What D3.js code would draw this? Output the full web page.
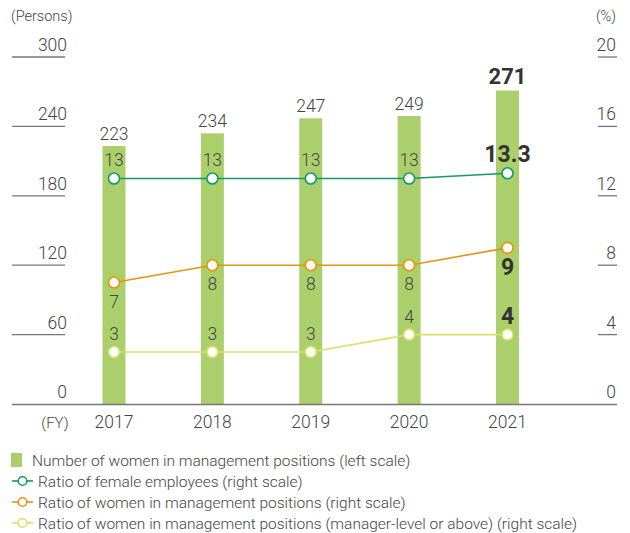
<!DOCTYPE html>
<html><head><meta charset="utf-8">
<script src="https://cdn.jsdelivr.net/npm/d3@7"></script>
<style>body{margin:0;background:#fff}svg{display:block}text{font-family:Roboto,"Liberation Sans",Arial,sans-serif;font-weight:300}</style>
</head><body><svg id="c" width="630" height="533"></svg>
<script>
const years = ["2017","2018","2019","2020","2021"];
const womenMgmt = [223,234,247,249,271];
const femaleRatio = [13,13,13,13,13.3];
const mgmtRatio = [7,8,8,8,9];
const mgrLevelRatio = [3,3,3,4,4];
const femaleLabels = ["13","13","13","13","13.3"];
const mgmtLabels = ["7","8","8","8","9"];
const mgrLabels = ["3","3","3","4","4"];
const leftTicks = [0,60,120,180,240,300];
const rightTicks = [0,4,8,12,16,20];
const legendItems = ["Number of women in management positions (left scale)","Ratio of female employees (right scale)","Ratio of women in management positions (right scale)","Ratio of women in management positions (manager-level or above) (right scale)"];

const C = {bar:"#abd06b", green:"#129a6a", orange:"#e8930e", yellow:"#dbe068", text:"#444", dark:"#333", axis:"#777"};
const svg = d3.select("#c");
const x = d3.scalePoint().domain(years).range([114,507.5]);
const yL = d3.scaleLinear().domain([0,300]).range([404,57]);
const yR = d3.scaleLinear().domain([0,20]).range([404,57]);
const last = years.length-1;

// left axis
const gl = svg.append("g");
leftTicks.forEach(t=>{
  if(t>0) gl.append("line").attr("x1",12).attr("x2",65).attr("y1",yL(t)).attr("y2",yL(t)).attr("stroke",C.axis).attr("stroke-width",1.3);
  gl.append("text").attr("x",67).attr("y",yL(t)-6).attr("text-anchor","end").attr("font-size",17.5).attr("fill",C.text).text(t);
});
const gr = svg.append("g");
rightTicks.forEach(t=>{
  if(t>0) gr.append("line").attr("x1",598).attr("x2",617).attr("y1",yR(t)).attr("y2",yR(t)).attr("stroke",C.axis).attr("stroke-width",1.3);
  gr.append("text").attr("x",616).attr("y",yR(t)-6).attr("text-anchor","end").attr("font-size",17.5).attr("fill",C.text).text(t);
});
svg.append("text").attr("x",11).attr("y",21).attr("font-size",14.5).attr("fill",C.text).text("(Persons)");
svg.append("text").attr("x",616).attr("y",21).attr("text-anchor","end").attr("font-size",14.5).attr("fill",C.text).text("(%)");

// bars
svg.append("g").selectAll("rect").data(womenMgmt).join("rect")
  .attr("x",(d,i)=>x(years[i])-11.5).attr("width",23)
  .attr("y",d=>yL(d)).attr("height",d=>yL(0)-yL(d)).attr("fill",C.bar);

// baseline
svg.append("line").attr("x1",12).attr("x2",617).attr("y1",404.5).attr("y2",404.5).attr("stroke",C.axis).attr("stroke-width",1.5);
svg.append("text").attr("x",55).attr("y",428).attr("text-anchor","middle").attr("font-size",15).attr("fill",C.text).text("(FY)");
svg.append("g").selectAll("text").data(years).join("text")
  .attr("x",d=>x(d)).attr("y",428).attr("text-anchor","middle").attr("font-size",17.5).attr("fill",C.text).text(d=>d);

// bar labels
svg.append("g").selectAll("text").data(womenMgmt).join("text")
  .attr("x",(d,i)=>x(years[i])).attr("y",(d,i)=>yL(d)-(i===last?7:6))
  .attr("text-anchor","middle").attr("font-size",(d,i)=>i===last?22:17.5)
  .style("font-weight",(d,i)=>i===last?700:300)
  .attr("fill",(d,i)=>i===last?C.dark:C.text).text(d=>d);

function series(vals, labels, color, dy){
  const g = svg.append("g");
  g.append("path").datum(vals).attr("fill","none").attr("stroke",color).attr("stroke-width",1.6)
    .attr("d", d3.line().x((d,i)=>x(years[i])).y(d=>yR(d)));
  g.selectAll("circle").data(vals).join("circle").attr("cx",(d,i)=>x(years[i])).attr("cy",d=>yR(d))
    .attr("r",5.5).attr("fill","#fff").attr("stroke",color).attr("stroke-width",1.6);
  g.selectAll("text").data(vals).join("text")
    .attr("x",(d,i)=>x(years[i])).attr("y",(d,i)=>yR(d)+dy(i))
    .attr("text-anchor","middle").attr("font-size",(d,i)=>i===last?23:17.5)
    .style("font-weight",(d,i)=>i===last?700:300)
    .attr("fill",(d,i)=>i===last?C.dark:C.text).text((d,i)=>labels[i]);
}
series(femaleRatio, femaleLabels, C.green, i=>i===last?-11:-12);
series(mgmtRatio, mgmtLabels, C.orange, i=>i===last?27:25);
series(mgrLevelRatio, mgrLabels, C.yellow, i=>i===last?-11:-12);

// legend
const lg = svg.append("g");
const rows = [460,481,502,523];
const lc = [null,C.green,C.orange,C.yellow];
legendItems.forEach((t,i)=>{
  const y = rows[i];
  if(i===0){
    lg.append("rect").attr("x",11).attr("y",y-7).attr("width",11).attr("height",14).attr("fill",C.bar);
    lg.append("text").attr("x",32).attr("y",y+5.5).attr("font-size",15.5).attr("fill",C.text).text(t);
  } else {
    lg.append("line").attr("x1",12).attr("x2",33).attr("y1",y).attr("y2",y).attr("stroke",lc[i]).attr("stroke-width",1.6);
    lg.append("circle").attr("cx",22.5).attr("cy",y).attr("r",4.3).attr("fill","#fff").attr("stroke",lc[i]).attr("stroke-width",1.6);
    lg.append("text").attr("x",38).attr("y",y+5.5).attr("font-size",15.5).attr("fill",C.text).text(t);
  }
});
</script></body></html>
